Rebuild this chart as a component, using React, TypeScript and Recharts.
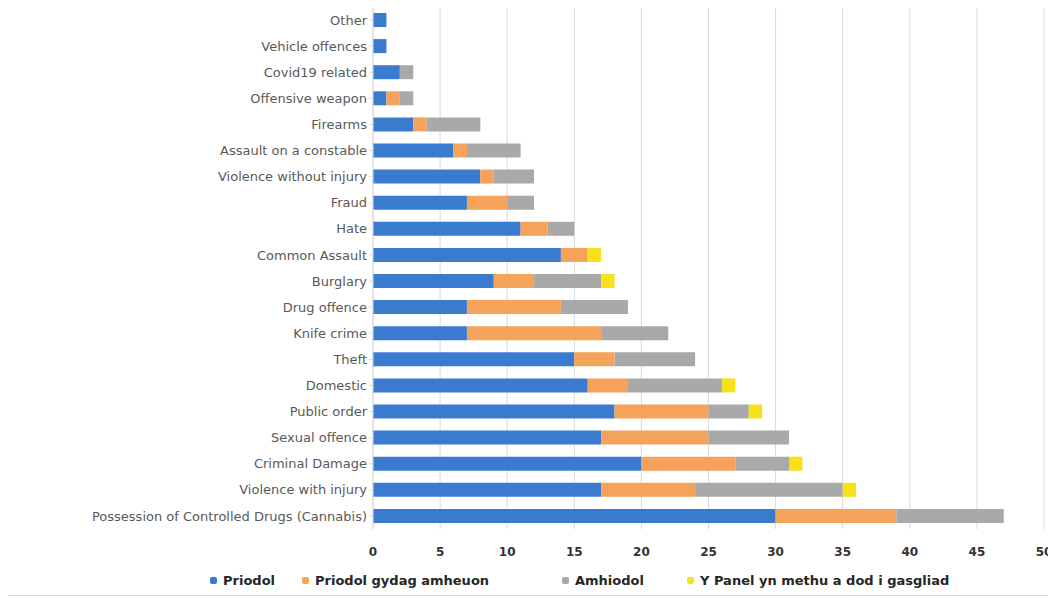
import React from "react";
import { BarChart, Bar, XAxis, YAxis, CartesianGrid } from "recharts";

// categories top to bottom
const categories = [
  "Other",
  "Vehicle offences",
  "Covid19 related",
  "Offensive weapon",
  "Firearms",
  "Assault on a constable",
  "Violence without injury",
  "Fraud",
  "Hate",
  "Common Assault",
  "Burglary",
  "Drug offence",
  "Knife crime",
  "Theft",
  "Domestic",
  "Public order",
  "Sexual offence",
  "Criminal Damage",
  "Violence with injury",
  "Possession of Controlled Drugs (Cannabis)",
];

const priodol = [1, 1, 2, 1, 3, 6, 8, 7, 11, 14, 9, 7, 7, 15, 16, 18, 17, 20, 17, 30];
const gydagAmheuon = [0, 0, 0, 1, 1, 1, 1, 3, 2, 2, 3, 7, 10, 3, 3, 7, 8, 7, 7, 9];
const amhiodol = [0, 0, 1, 1, 4, 4, 3, 2, 2, 0, 5, 5, 5, 6, 7, 3, 6, 4, 11, 8];
const methu = [0, 0, 0, 0, 0, 0, 0, 0, 0, 1, 1, 0, 0, 0, 1, 1, 0, 1, 1, 0];

const xTicks = [0, 5, 10, 15, 20, 25, 30, 35, 40, 45, 50];

const SERIES = [
  { key: "priodol", name: "Priodol", color: "#3a7bd0" },
  { key: "gydag", name: "Priodol gydag amheuon", color: "#f5a25a" },
  { key: "amhiodol", name: "Amhiodol", color: "#a9a9a9" },
  { key: "methu", name: "Y Panel yn methu a dod i gasgliad", color: "#f7e11a" },
];

const data = categories.map((c, i) => ({
  category: c,
  priodol: priodol[i],
  gydag: gydagAmheuon[i],
  amhiodol: amhiodol[i],
  methu: methu[i],
}));

const FONT = "'DejaVu Sans', Verdana, sans-serif";

function ChartLegend() {
  const positions = [205, 297, 557, 682];
  return (
    <div style={{ position: "relative", height: 20, fontFamily: FONT }}>
      {SERIES.map((s, i) => (
        <div
          key={s.key}
          style={{
            position: "absolute",
            left: positions[i],
            top: 0,
            display: "flex",
            alignItems: "center",
            gap: 6,
            fontSize: 13,
            fontWeight: "bold",
            color: "#262626",
            whiteSpace: "nowrap",
          }}
        >
          <div style={{ width: 7, height: 7, borderRadius: 2, background: s.color }} />
          {s.name}
        </div>
      ))}
    </div>
  );
}

export default function App() {
  return (
    <div
      style={{
        width: 1050,
        height: 592,
        margin: "-4px 0 0 -4px",
        border: "1px solid #d9d9d9",
        background: "#fff",
        boxSizing: "border-box",
        position: "relative",
      }}
    >
      <BarChart
        width={1048}
        height={554}
        data={data}
        layout="vertical"
        margin={{ top: 2, right: 9, bottom: 0, left: 0 }}
        barSize={14}
      >
        <CartesianGrid horizontal={false} stroke="#d9d9d9" />
        <XAxis
          type="number"
          domain={[0, 50]}
          ticks={xTicks}
          axisLine={false}
          tickLine={false}
          tickMargin={12}
          tick={{ fontSize: 12, fill: "#333", fontWeight: "bold", fontFamily: FONT }}
          height={30}
        />
        <YAxis
          type="category"
          dataKey="category"
          width={368}
          axisLine={{ stroke: "#d9d9d9" }}
          tickLine={{ stroke: "#d9d9d9" }}
          tickSize={4}
          interval={0}
          tick={{ fontSize: 13, fill: "#595959", fontFamily: FONT }}
        />
        {SERIES.map((s) => (
          <Bar
            key={s.key}
            dataKey={s.key}
            name={s.name}
            stackId="a"
            fill={s.color}
            isAnimationActive={false}
          />
        ))}
      </BarChart>
      <div style={{ marginTop: 14 }}>
        <ChartLegend />
      </div>
    </div>
  );
}
